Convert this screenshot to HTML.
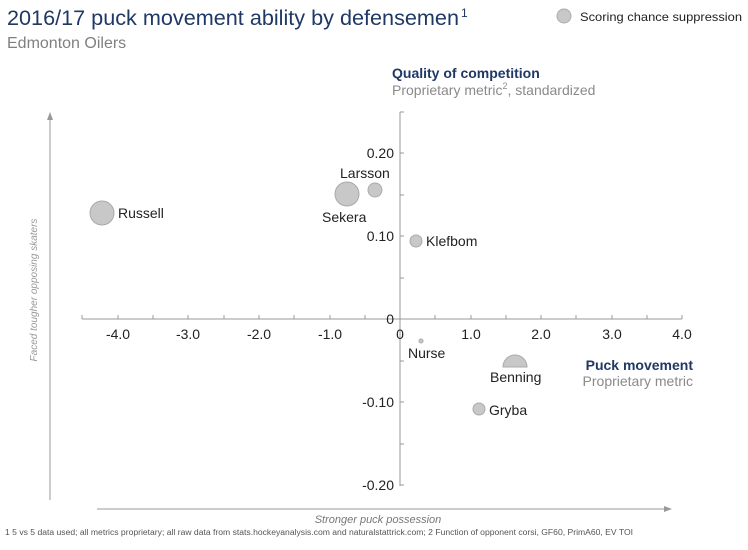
<!DOCTYPE html><html><head><style>body{margin:0;width:748px;height:545px;overflow:hidden;background:#fff}</style></head><body>
<svg width="748" height="545" viewBox="0 0 748 545" xmlns="http://www.w3.org/2000/svg" font-family="Liberation Sans, Arial, sans-serif">
<text x="7" y="25" font-size="21" fill="#1f3864" textLength="452" lengthAdjust="spacingAndGlyphs">2016/17 puck movement ability by defensemen</text>
<text x="461" y="17" font-size="12" fill="#1f3864">1</text>
<text x="7" y="48" font-size="16" fill="#808080">Edmonton Oilers</text>
<circle cx="564" cy="16" r="7" fill="#c8c8c8" stroke="#aaa"/>
<text x="580" y="21" font-size="12" fill="#222" textLength="162" lengthAdjust="spacingAndGlyphs">Scoring chance suppression</text>
<text x="392" y="78" font-size="14" font-weight="bold" fill="#1f3864">Quality of competition</text>
<text x="392" y="95" font-size="14" fill="#8a8a8a">Proprietary metric<tspan font-size="9" dy="-6">2</tspan><tspan dy="6">, standardized</tspan></text>
<g stroke="#999" stroke-width="1" fill="none">
<line x1="400" y1="112" x2="400" y2="486"/>
<line x1="82" y1="319" x2="682" y2="319"/>
<path d="M400 112h4 M400 153h4 M400 195h4 M400 236h4 M400 278h4 M400 361h4 M400 402h4 M400 444h4 M400 485h4"/>
<path d="M82 319v-4 M118 319v-4 M153 319v-4 M188 319v-4 M224 319v-4 M259 319v-4 M294 319v-4 M330 319v-4 M365 319v-4 M435 319v-4 M471 319v-4 M506 319v-4 M541 319v-4 M576 319v-4 M612 319v-4 M647 319v-4 M682 319v-4"/>
<line x1="50" y1="120" x2="50" y2="500"/>
<line x1="97" y1="509" x2="665" y2="509"/>
</g>
<path d="M50 112l-3 8h6z M672 509l-8 -3v6z" fill="#999"/>
<g font-size="14" fill="#222" text-anchor="middle">
<text x="118" y="339">-4.0</text><text x="188" y="339">-3.0</text><text x="259" y="339">-2.0</text><text x="330" y="339">-1.0</text><text x="400" y="339">0</text><text x="471" y="339">1.0</text><text x="541" y="339">2.0</text><text x="612" y="339">3.0</text><text x="682" y="339">4.0</text>
</g>
<g font-size="14" fill="#222" text-anchor="end">
<text x="394" y="158">0.20</text><text x="394" y="241">0.10</text><text x="394" y="324">0</text><text x="394" y="407">-0.10</text><text x="394" y="490">-0.20</text>
</g>
<text x="693" y="370" font-size="14" font-weight="bold" fill="#1f3864" text-anchor="end">Puck movement</text>
<text x="693" y="386" font-size="14" fill="#8a8a8a" text-anchor="end">Proprietary metric</text>
<text x="37" y="290" font-size="10" font-style="italic" fill="#999" text-anchor="middle" transform="rotate(-90 37 290)">Faced tougher opposing skaters</text>
<text x="378" y="523" font-size="11" font-style="italic" fill="#777" text-anchor="middle">Stronger puck possession</text>
<text x="5" y="535" font-size="8" fill="#555" textLength="628" lengthAdjust="spacingAndGlyphs">1 5 vs 5 data used; all metrics proprietary; all raw data from stats.hockeyanalysis.com and naturalstattrick.com; 2 Function of opponent corsi, GF60, PrimA60, EV TOI</text>
<g fill="#c8c8c8" stroke="#aaa">
<circle cx="102" cy="213" r="12"/>
<circle cx="347" cy="194" r="12"/>
<circle cx="375" cy="190" r="7"/>
<circle cx="416" cy="241" r="6"/>
<circle cx="421" cy="341" r="2"/>
<path d="M503 367 A12 12 0 1 1 527 367 Z"/>
<circle cx="479" cy="409" r="6"/>
</g>
<g font-size="14" fill="#222">
<text x="118" y="218">Russell</text>
<text x="340" y="178">Larsson</text>
<text x="322" y="222">Sekera</text>
<text x="426" y="246">Klefbom</text>
<text x="408" y="358">Nurse</text>
<text x="490" y="382">Benning</text>
<text x="489" y="415">Gryba</text>
</g>
</svg>
</body></html>
